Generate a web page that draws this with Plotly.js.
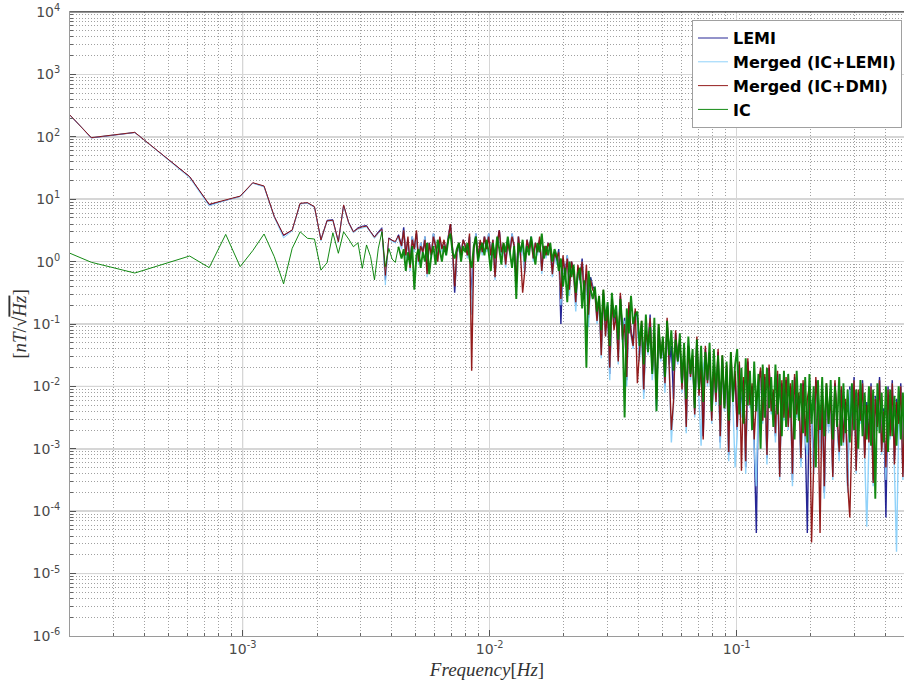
<!DOCTYPE html>
<html><head><meta charset="utf-8">
<script src="https://cdn.plot.ly/plotly-3.0.1.min.js"></script>
<style>html,body{margin:0;padding:0;background:#fff;overflow:hidden}#chart{width:904px;height:684px}</style>
</head><body><div id="chart"></div>
<script>
// ---- data ----
const seriesNames = ['LEMI', 'Merged (IC+LEMI)', 'Merged (IC+DMI)', 'IC'];
const seriesColors = ['#14148c', '#87cefa', '#8b0a0a', '#008000'];

// low-frequency part: individual FFT bins [Hz] and amplitudes [nT/sqrt(Hz)]
const lowFreq = [2.0e-4, 2.44e-4, 3.66e-4, 6.1e-4, 7.32e-4, 8.54e-4, 9.77e-4, 1.099e-3, 1.221e-3, 1.343e-3,
  1.465e-3, 1.587e-3, 1.709e-3, 1.831e-3, 1.953e-3, 2.075e-3, 2.197e-3, 2.319e-3, 2.441e-3, 2.563e-3,
  2.686e-3, 2.808e-3, 2.930e-3, 3.052e-3, 3.174e-3, 3.296e-3, 3.418e-3, 3.540e-3, 3.662e-3, 3.784e-3,
  3.906e-3, 4.028e-3, 4.150e-3, 4.272e-3];
const lemiLow = [222, 96, 117, 23, 8.1, 9.7, 11.1, 18.2, 16.0, 5.3, 2.6, 3.2, 8.5, 8.7, 7.5, 2.25, 4.6, 4.7, 2.1, 8.0,
  4.3, 3.0, 3.5, 3.7, 3.8, 3.0, 2.5, 3.0, 3.5, 0.5, 2.4, 2.2, 2.0, 2.7];
const mergedLemiLow = [223, 97, 118, 22, 7.8, 9.6, 11.0, 18.0, 15.8, 5.1, 2.4, 3.1, 8.4, 8.6, 7.4, 2.15, 4.4, 4.5, 2.0, 7.8,
  4.1, 2.9, 3.3, 3.5, 3.6, 2.9, 2.35, 2.8, 3.2, 0.42, 2.3, 2.1, 2.0, 2.5];
const mergedDmiLow = [223, 97, 118, 23, 8.3, 9.8, 11.2, 18.4, 16.3, 5.25, 2.67, 3.2, 8.6, 8.8, 7.6, 2.22, 4.5, 4.6, 2.08, 8.1,
  4.2, 3.0, 3.4, 3.6, 3.7, 3.0, 2.45, 2.9, 3.3, 0.6, 2.36, 2.2, 2.1, 2.6];
const icLow = [1.36, 0.975, 0.656, 1.23, 0.80, 2.73, 0.83, 1.5, 2.77, 1.2, 0.44, 1.63, 3.0, 2.36, 2.3, 0.73, 0.96, 2.9, 1.36, 3.0,
  2.3, 1.73, 2.0, 0.78, 1.85, 1.2, 0.51, 1.6, 3.0, 0.83, 1.63, 1.1, 0.97, 1.73];

// high-frequency part: amplitudes in dB re 1 nT/sqrt(Hz), on a log-spaced frequency grid 0.0044 .. 0.5 Hz
const hfStart = 0.0044, hfEnd = 0.5;
const lemiHighDb = [
  5, 11, 2, 7, -1, 8, 4, 9, 0, 6,  3, 8, -3, 6, 2, 9, 5, 1, 7, 4,  6, 3, 8, 12, 4, -10, 2, 6, 3, 7,
  5, 2, 8, -12, 4, 9, 1, 6, 3, 8,  4, 9, 2, 7, -4, 6, 10, 3, 5, 0,  7, 3, 9, 5, -6, 8, 2, 6, -3, 7,
  4, 8, 1, 6, 3, 7, -2, 5, 2, 6,  4, -3, 3,
  0, 4, -20, 1, -4, 2, -8, 0, -3, -14, -2, -6, 1, -10, -4, -18, -5, -8,
  -9, -18, -12, -28, -10, -22, -14, -36, -12, -20, -16, -30, -11, -24, -18, -38, -14, -22, -26, -16,
  -18, -30, -20, -42, -22, -28, -17, -36, -24, -46, -21, -30, -26, -40, -19, -33, -27, -44, -23, -31,
  -26, -40, -29, -52, -27, -36, -31, -48, -25, -42, -33, -56, -28, -38, -30, -50, -34, -44, -29, -58,
  -31, -46, -34, -62, -30, -44, -36, -54, -33, -48, -38, -66, -32, -45, -40, -58, -87, -41, -35, -50, -37, -63, -34, -47, -42, -56, -36, -68, -39, -49,
  -38, -52, -40, -70, -37, -48, -43, -64, -39, -55, -87, -41, -50, -66, -38, -46, -58, -42, -74, -40, -53, -44, -68, -39, -49, -62, -41, -57, -45, -72,
  -40, -54, -37, -66, -42, -50, -38, -62, -45, -57, -39, -70, -43, -52, -37, -60, -47, -82, -40, -55, -38, -64, -44, -51, -39, -68, -42, -56, -40];
const mergedLemiHighDb = [
  4, 10, 1, 7, -3, 8, 3, 9, -1, 6,  2, 8, -5, 6, 1, 9, 4, 0, 7, 3,  6, 2, 8, 11, 3, -7, 2, 5, 3, 7,
  5, 1, 8, -17, 3, 9, 0, 6, 2, 8,  3, 9, 1, 7, -6, 6, 9, 2, 5, -2,  7, 2, 9, 4, -8, 8, 1, 6, -4, 7,
  3, 8, 0, 6, 2, 7, -4, 5, 1, 6,  3, -5, 2,
  -1, 3, -14, 0, -6, 2, -11, -1, -4, -16, -3, -7, 0, -12, -5, -21, -6, -9,
  -10, -20, -13, -31, -11, -24, -15, -38, -13, -21, -17, -33, -12, -26, -19, -40, -15, -24, -28, -17,
  -19, -32, -21, -44, -23, -30, -18, -38, -25, -48, -22, -32, -27, -42, -20, -35, -58, -46, -24, -33,
  -27, -42, -30, -55, -28, -38, -32, -50, -26, -44, -59, -34, -29, -40, -31, -52, -35, -46, -30, -60,
  -32, -48, -35, -64, -31, -46, -66, -56, -34, -50, -39, -68, -33, -47, -41, -60, -72, -43, -36, -52, -38, -65, -35, -49, -43, -58, -37, -70, -40, -51,
  -39, -54, -41, -72, -38, -50, -44, -66, -40, -57, -62, -42, -52, -68, -39, -48, -60, -43, -76, -41, -55, -45, -70, -40, -51, -64, -42, -59, -46, -74,
  -41, -56, -38, -68, -43, -52, -39, -64, -85, -59, -40, -72, -44, -54, -38, -62, -48, -70, -41, -57, -39, -66, -93, -53, -40, -70, -43, -58, -41];
const mergedDmiHighDb = [
  5, 10, 2, 8, -2, 7, 4, 10, 0, 5,  3, 7, -4, 6, 2, 8, 5, 0, 8, 4,  7, 3, 8, 12, 4, -8, 3, 6, 2, 7,
  5, 2, 9, -35, 4, 8, 1, 7, 3, 8,  4, 8, 2, 7, -5, 5, 10, 3, 6, -1,  6, 3, 8, 5, -7, 8, 2, -10, -3, 7,
  4, 7, 1, 6, 3, 8, -3, 5, 2, 6,  4, -4, 3,
  1, 3, -12, 2, -5, 1, -9, 0, -4, -13, -1, -6, 0, -12, -1, -17, -6, -9,
  -10, -19, -11, -30, -9, -24, -15, -34, -12, -22, -17, -32, -10, -25, -20, -37, -13, -23, -27, -15,
  -39, -29, -19, -41, -22, -27, -18, -35, -23, -44, -20, -31, -25, -39, -18, -34, -54, -45, -22, -32,
  -25, -41, -28, -53, -27, -37, -30, -49, -24, -43, -32, -57, -27, -39, -29, -51, -33, -45, -28, -56,
  -30, -47, -33, -61, -29, -43, -35, -53, -32, -67, -37, -64, -31, -46, -39, -57, -44, -40, -34, -51, -36, -62, -33, -48, -41, -55, -35, -69, -38, -50,
  -37, -53, -39, -68, -36, -49, -42, -63, -38, -56, -44, -40, -90, -65, -37, -47, -87, -41, -72, -39, -52, -43, -69, -38, -48, -61, -40, -58, -44, -71,
  -82, -55, -38, -67, -41, -51, -39, -63, -46, -58, -40, -71, -44, -53, -38, -61, -48, -66, -41, -56, -39, -65, -45, -52, -40, -69, -43, -57, -41];
const icHighDb = [
  1, 4, -3, 3, -1, 5, -9, 2, 4, -2,  3, 0, 6, -4, 2, 5, -1, 7, 3, 0,  5, 2, 7, 9, 3, 1, 4, 6, 0, 5,
  3, 6, 1, -2, 5, 8, 0, 4, 6, 2,  7, 3, -3, 6, 1, 8, 4, -1, 6, 3,  8, 2, -2, 5, -12, 6, 3, 7, 0, 5,
  2, 8, 4, -1, 6, 3, 9, 1, 5, 2,  6, 0, 4,
  2, -3, 1, -8, -2, -13, 0, -5, -1, -10, -4, -2, -15, -6, -34, -3, -9, -12,
  -8, -16, -11, -22, -9, -19, -13, -27, -10, -18, -14, -25, -12, -21, -50, -15, -23, -11, -20, -17,
  -16, -27, -19, -33, -17, -29, -21, -36, -18, -48, -20, -31, -24, -37, -19, -30, -22, -35, -25, -32,
  -23, -39, -26, -44, -24, -36, -28, -47, -25, -41, -27, -45, -29, -38, -26, -48, -28, -42, -30, -46,
  -30, -47, -32, -51, -29, -45, -33, -28, -49, -34, -52, -31, -46, -35, -54, -32, -48, -36, -60, -33, -50, -34, -47, -37, -53, -33, -49, -36, -56, -35,
  -53, -36, -50, -38, -57, -35, -51, -39, -55, -37, -58, -36, -52, -40, -66, -38, -54, -37, -56, -39, -52, -38, -57, -40, -53, -37, -59, -39, -55, -41,
  -58, -39, -54, -41, -60, -38, -56, -42, -57, -40, -59, -41, -76, -39, -55, -42, -58, -40, -61, -41, -56, -43, -59, -40, -57, -42, -60, -41, -58];

const xRangeHz = [2.0e-4, 0.476];
const yRangeExp = [-6.0005, 4.0005];
const yTickExp = [-6, -5, -4, -3, -2, -1, 0, 1, 2, 3, 4];
const xTickExp = [-3, -2, -1];

// ---- build traces ----
function dbToAmp(d) { return Math.pow(10, d / 20); }
function hfGrid(n) {
  const f = [];
  for (let i = 0; i < n; i++) f.push(hfStart * Math.pow(hfEnd / hfStart, i / (n - 1)));
  return f;
}
const lows = [lemiLow, mergedLemiLow, mergedDmiLow, icLow];
const highs = [lemiHighDb, mergedLemiHighDb, mergedDmiHighDb, icHighDb];
const hfWidths = [1.4, 1.4, 1.4, 1.9];
const traces = [];
seriesNames.forEach((name, s) => {
  traces.push({
    type: 'scatter', mode: 'lines', name: name, legendgroup: 'g' + s,
    x: lowFreq, y: lows[s],
    line: {color: seriesColors[s], width: 1},
    opacity: 0.92, hoverinfo: 'skip'
  });
});
seriesNames.forEach((name, s) => {
  const lastLow = lowFreq.length - 1;
  traces.push({
    type: 'scatter', mode: 'lines', name: name, legendgroup: 'g' + s, showlegend: false,
    x: [lowFreq[lastLow]].concat(hfGrid(highs[s].length)),
    y: [lows[s][lastLow]].concat(highs[s].map(dbToAmp)),
    line: {color: seriesColors[s], width: hfWidths[s]},
    opacity: 0.92, hoverinfo: 'skip'
  });
});

const xr = [Math.log10(xRangeHz[0]), Math.log10(xRangeHz[1])];
function xPaper(f) { return (Math.log10(f) - xr[0]) / (xr[1] - xr[0]); }
function yPaper(v) { return (Math.log10(v) - yRangeExp[0]) / (yRangeExp[1] - yRangeExp[0]); }
const darkGrid = '#a9a9a9';
const shapes = [
  {type: 'line', xref: 'paper', yref: 'paper', x0: 0, x1: 1, y0: yPaper(10), y1: yPaper(10), line: {color: darkGrid, width: 1}, layer: 'below'},
  {type: 'line', xref: 'paper', yref: 'paper', x0: 0, x1: 1, y0: yPaper(1e-2), y1: yPaper(1e-2), line: {color: darkGrid, width: 1}, layer: 'below'},
  {type: 'line', xref: 'paper', yref: 'paper', x0: 0, x1: 1, y0: yPaper(1e-5), y1: yPaper(1e-5), line: {color: darkGrid, width: 1}, layer: 'below'},
  {type: 'line', xref: 'paper', yref: 'paper', x0: xPaper(1e-3), x1: xPaper(1e-3), y0: 0, y1: 1, line: {color: darkGrid, width: 1}, layer: 'below'},
  {type: 'line', xref: 'paper', yref: 'paper', x0: 0, x1: 1, y0: 1, y1: 1, line: {color: '#333', width: 1.2}, layer: 'above'}
];

const tickFont = {family: 'DejaVu Sans, sans-serif', size: 14, color: '#4a4a4a'};
const minorGrid = {dtick: 'D1', showgrid: true, gridcolor: '#a0a0a0', griddash: '1px,2px', gridwidth: 1, ticks: 'inside', ticklen: 3, tickcolor: '#666'};
const layout = {
  width: 904, height: 684,
  margin: {l: 70, r: 0, t: 12, b: 48},
  paper_bgcolor: '#fff', plot_bgcolor: '#fff',
  showlegend: true,
  xaxis: {
    type: 'log', range: xr,
    tickmode: 'array', tickvals: xTickExp.map(e => Math.pow(10, e)), ticktext: xTickExp.map(e => '10<sup>' + e + '</sup>'),
    showgrid: true, gridcolor: '#d6d6d6', gridwidth: 1.5,
    minor: minorGrid,
    ticks: 'inside', ticklen: 6, tickcolor: '#555',
    showline: true, linecolor: '#9a9a9a', linewidth: 1, mirror: true,
    zeroline: false, tickfont: tickFont,
    title: {text: '<i>Frequency</i>[<i>Hz</i>]', font: {family: 'Liberation Serif, serif', size: 19, color: '#333'}, standoff: 6},
    automargin: false
  },
  yaxis: {
    type: 'log', range: yRangeExp,
    tickmode: 'array', tickvals: yTickExp.map(e => Math.pow(10, e)), ticktext: yTickExp.map(e => '10<sup>' + e + '</sup>'),
    showgrid: true, gridcolor: '#d6d6d6', gridwidth: 1.5,
    minor: minorGrid,
    ticks: 'inside', ticklen: 6, tickcolor: '#555',
    showline: true, linecolor: '#9a9a9a', linewidth: 1, mirror: false,
    zeroline: false, tickfont: tickFont, ticklabelstandoff: 6,
    title: {text: '[<i>nT</i>/√<span style="text-decoration:overline"><i>Hz</i></span>]', font: {family: 'Liberation Serif, serif', size: 19, color: '#333'}, standoff: 0},
    automargin: false
  },
  legend: {
    x: 0.9976, xanchor: 'right', y: 0.987, yanchor: 'top',
    bgcolor: '#ffffff', bordercolor: '#a0a0a0', borderwidth: 1,
    font: {family: 'DejaVu Sans, sans-serif', size: 16, color: '#000', weight: 'bold'},
    tracegroupgap: 0, itemwidth: 30
  },
  shapes: shapes
};

Plotly.newPlot('chart', traces, layout, {displayModeBar: false, staticPlot: true});
</script>
</body></html>
